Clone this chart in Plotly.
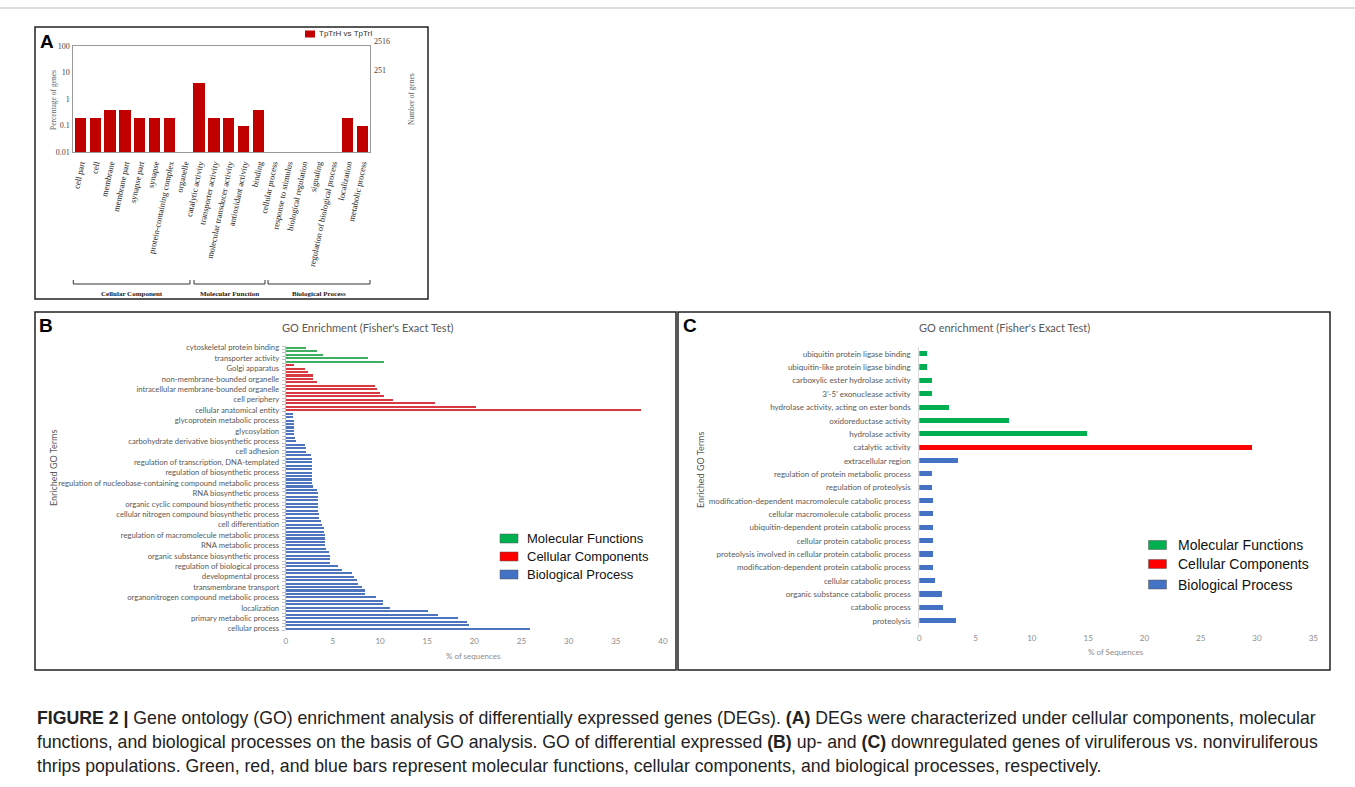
import plotly.graph_objects as go

W, H = 1355, 787
def px(x): return x / W
def py(y): return 1 - y / H

# ---------------- Panel A data ----------------
a_categories = ["cell part", "cell", "membrane", "membrane part", "synapse part", "synapse",
                "protein-containing complex", "organelle", "catalytic activity",
                "transporter activity", "molecular transducer activity", "antioxidant activity",
                "binding", "cellular process", "response to stimulus", "biological regulation",
                "signaling", "regulation of biological process", "localization", "metabolic process"]
a_values = [0.2, 0.2, 0.4, 0.4, 0.2, 0.2, 0.2, None, 4.0, 0.2, 0.2, 0.1, 0.4,
            None, None, None, None, None, 0.2, 0.1]
a_ticks = [0.01, 0.1, 1, 10, 100]
a_tick_labels = ["0.01", "0.1", "1", "10", "100"]
a_right_labels = ["2516", "251"]
a_groups = ["Cellular Component", "Molecular Function", "Biological Process"]

# ---------------- Panel B data ----------------
b_labels = ["cytoskeletal protein binding", "transporter activity", "Golgi apparatus",
            "non-membrane-bounded organelle", "intracellular membrane-bounded organelle",
            "cell periphery", "cellular anatomical entity", "glycoprotein metabolic process",
            "glycosylation", "carbohydrate derivative biosynthetic process", "cell adhesion",
            "regulation of transcription, DNA-templated", "regulation of biosynthetic process",
            "regulation of nucleobase-containing compound metabolic process",
            "RNA biosynthetic process", "organic cyclic compound biosynthetic process",
            "cellular nitrogen compound biosynthetic process", "cell differentiation",
            "regulation of macromolecule metabolic process", "RNA metabolic process",
            "organic substance biosynthetic process", "regulation of biological process",
            "developmental process", "transmembrane transport",
            "organonitrogen compound metabolic process", "localization",
            "primary metabolic process", "cellular process"]
b_mf = [2.08, 3.29, 3.89, 8.69, 10.35]
b_cc = [0.88, 1.98, 2.33, 2.83, 2.83, 3.32, 9.43, 9.61, 10.0, 10.42, 11.34, 15.83, 20.14, 37.6]
b_bp = [0.71, 0.71, 0.88, 0.88, 0.88, 0.88, 0.88, 0.95, 1.02,
        2.0, 2.12, 2.12, 2.61, 2.72, 2.72, 2.72, 2.72, 2.72, 2.72, 2.72, 2.76, 2.83,
        3.29, 3.39, 3.39, 3.39, 3.43, 3.43, 3.43, 3.46, 3.46,
        3.75, 3.78, 3.99, 4.03, 4.13, 4.13, 4.13, 4.17, 4.24,
        4.6, 4.63, 4.63, 4.63, 5.51, 5.97, 7.0, 7.17, 7.53,
        7.6, 8.06, 8.37, 8.37, 9.58, 10.28, 10.28, 11.06, 15.09,
        16.15, 18.2, 19.19, 19.43, 25.83]

# ---------------- Panel C data ----------------
c_labels = ["ubiquitin protein ligase binding", "ubiquitin-like protein ligase binding",
            "carboxylic ester hydrolase activity", "3'-5' exonuclease activity",
            "hydrolase activity, acting on ester bonds", "oxidoreductase activity",
            "hydrolase activity", "catalytic activity", "extracellular region",
            "regulation of protein metabolic process", "regulation of proteolysis",
            "modification-dependent macromolecule catabolic process",
            "cellular macromolecule catabolic process",
            "ubiquitin-dependent protein catabolic process", "cellular protein catabolic process",
            "proteolysis involved in cellular protein catabolic process",
            "modification-dependent protein catabolic process", "cellular catabolic process",
            "organic substance catabolic process", "catabolic process", "proteolysis"]
c_mf = [0.75, 0.75, 1.16, 1.16, 2.67, 7.97, 14.95]
c_cc = [29.6]
c_bp = [3.47, 1.16, 1.16, 1.25, 1.25, 1.25, 1.25, 1.25, 1.25, 1.45, 2.07, 2.13, 3.28]

legend_names = ["Molecular Functions", "Cellular Components", "Biological Process"]
legend_colors = ["#00B050", "#FF0000", "#4472C4"]

fig = go.Figure()

# ---- Panel A bars ----
fig.add_trace(go.Bar(x=list(range(len(a_categories))), y=a_values, marker_color="#C00000",
                     width=0.77, xaxis="x", yaxis="y", showlegend=False))

# ---- Panel B bars ----
nB = len(b_mf) + len(b_cc) + len(b_bp)
pos = list(range(nB))
b_cols = ["#3FAE63", "#D8383F", "#4E74BE"]
start = 0
for vals, col in zip([b_mf, b_cc, b_bp], b_cols):
    fig.add_trace(go.Bar(x=vals, y=pos[start:start + len(vals)], orientation="h",
                         marker=dict(color=col, line=dict(width=0)), width=0.6,
                         xaxis="x2", yaxis="y2", showlegend=False))
    start += len(vals)

# ---- Panel C bars ----
start = 0
for vals, col in zip([c_mf, c_cc, c_bp], legend_colors):
    fig.add_trace(go.Bar(x=vals, y=c_labels[start:start + len(vals)], orientation="h",
                         marker=dict(color=col, line=dict(width=0)), width=0.38,
                         xaxis="x3", yaxis="y3", showlegend=False))
    start += len(vals)

serif = "Liberation Serif, Times New Roman, serif"
sans = "Lato, Open Sans, sans-serif"
arial = "Liberation Sans, Arial, sans-serif"

fig.update_layout(
    width=W, height=H, margin=dict(l=0, r=0, t=0, b=0),
    paper_bgcolor="white", plot_bgcolor="rgba(0,0,0,0)", template="none",
    bargap=0, showlegend=False,
    xaxis=dict(domain=[px(73.3), px(370)], range=[-0.5, 19.5], tickmode="array",
               tickvals=list(range(len(a_categories))), ticktext=a_categories,
               tickangle=-78, tickfont=dict(family=serif, size=8.5, color="#222"),
               ticklabelstandoff=2,
               showline=True, linecolor="#999", mirror=True, linewidth=1,
               ticks="", showgrid=False, zeroline=False, automargin=False, anchor="y"),
    yaxis=dict(domain=[py(152.3), py(45.7)], type="log", range=[-2, 2], tickmode="array",
               tickvals=a_ticks, ticktext=a_tick_labels,
               tickfont=dict(family=serif, size=8, color="#444"),
               showline=True, linecolor="#999", mirror=True, linewidth=1,
               ticks="", ticklabelstandoff=1,
               showgrid=False, zeroline=False, automargin=False, anchor="x"),
    xaxis2=dict(domain=[px(285.7), px(663)], range=[0, 40], dtick=5, tick0=0,
                tickfont=dict(family=sans, size=8, color="#8c8c8c"), ticklabelstandoff=5,
                showline=False, showgrid=False, zeroline=False, ticks="",
                automargin=False, anchor="y2"),
    yaxis2=dict(domain=[py(630.4), py(346)], range=[nB - 0.5, -0.5], tickmode="array",
                tickvals=pos[::3], ticktext=b_labels, ticklabelstandoff=4,
                tickfont=dict(family=sans, size=7.7, color="#595959"),
                showline=True, linecolor="#bfbfbf", linewidth=1, ticks="",
                minor=dict(tickmode="linear", tick0=0.5, dtick=1, ticks="outside",
                           ticklen=3, tickcolor="#bfbfbf", showgrid=False),
                showgrid=False, zeroline=False, automargin=False, anchor="x2"),
    xaxis3=dict(domain=[px(919.3), px(1313.3)], range=[0, 35], dtick=5, tick0=0,
                tickfont=dict(family=sans, size=8, color="#8c8c8c"), ticklabelstandoff=4,
                showline=False, showgrid=False, zeroline=False, ticks="",
                automargin=False, anchor="y3"),
    yaxis3=dict(domain=[py(627.7), py(347.3)], type="category",
                categoryorder="array", categoryarray=c_labels,
                autorange="reversed", ticklabelstandoff=6,
                tickfont=dict(family=sans, size=8, color="#595959"),
                showline=True, linecolor="#d9d9d9", linewidth=1, ticks="",
                showgrid=False, zeroline=False, automargin=False, anchor="x3"),
)

shapes = []
annotations = []

def note(text, x, y, size, family=sans, color="#595959", xanchor="center", angle=0):
    annotations.append(dict(text=text, x=px(x), y=py(y), xref="paper", yref="paper",
                            xanchor=xanchor, yanchor="middle", textangle=angle,
                            showarrow=False, font=dict(family=family, size=size, color=color)))

# Panel borders
for (x0, y0, x1, y1) in [(35, 27, 428, 299), (35, 312, 676, 670), (678, 312, 1330, 670)]:
    shapes.append(dict(type="rect", xref="paper", yref="paper", x0=px(x0), x1=px(x1),
                       y0=py(y1), y1=py(y0), line=dict(color="#222", width=1.5)))
shapes.append(dict(type="line", xref="paper", yref="paper", x0=0, x1=1, y0=py(8), y1=py(8),
                   line=dict(color="#bbb", width=1)))

# Panel letters
for lab, x, y in [("A", 47, 41), ("B", 46, 326), ("C", 690, 326)]:
    note("<b>%s</b>" % lab, x, y, 19, family=arial, color="black")

# Panel A extras
shapes.append(dict(type="rect", xref="paper", yref="paper", x0=px(305), x1=px(315),
                   y0=py(37.5), y1=py(30.5), fillcolor="#C00000", line=dict(width=0)))
note("TpTrH vs TpTrI", 317, 34, 8, family=arial, color="#333", xanchor="left")
for lab, yv in zip(a_right_labels, [41, 71]):
    note(lab, 372, yv, 8, family=serif, color="#444", xanchor="left")
note("Percentage of genes", 54, 100, 7.5, family=serif, color="#666", angle=-90)
note("Number of genes", 411, 99, 7.5, family=serif, color="#666", angle=-90)
for (x0, x1), lab in zip([(73.3, 190), (194, 265), (268, 370)], a_groups):
    shapes.append(dict(type="path", xref="paper", yref="paper",
                       path="M %f %f L %f %f L %f %f L %f %f" % (px(x0), py(280), px(x0), py(284),
                                                                 px(x1), py(284), px(x1), py(280)),
                       line=dict(color="#333", width=1)))
    note("<b>%s</b>" % lab, (x0 + x1) / 2, 293.5, 7, family=serif, color="#222")

# Panel B/C titles & axis titles
note("GO Enrichment (Fisher's Exact Test)", 368, 327, 11)
note("GO enrichment (Fisher's Exact Test)", 1005, 327, 11)
note("% of sequences", 473, 656, 8, color="#8c8c8c")
note("% of Sequences", 1116, 652, 8, color="#8c8c8c")
note("Enriched GO Terms", 53, 468, 9, angle=-90)
note("Enriched GO Terms", 701, 470, 9, angle=-90)

# Legends for B and C
for (sx, tx, ys, fs) in [(500, 525, [538.5, 556.5, 574.5], 13), (1148.5, 1176, [545, 564, 584.5], 14)]:
    for name, col, yc in zip(legend_names, legend_colors, ys):
        shapes.append(dict(type="rect", xref="paper", yref="paper", x0=px(sx), x1=px(sx + 18),
                           y0=py(yc + 4.5), y1=py(yc - 4.5), fillcolor=col,
                           line=dict(color="#555", width=0.5)))
        note(name, tx, yc, fs, family=arial, color="#111", xanchor="left")

# Caption
cap = [
    "<b>FIGURE 2 |</b> Gene ontology (GO) enrichment analysis of differentially expressed genes (DEGs). <b>(A)</b> DEGs were characterized under cellular components, molecular",
    "functions, and biological processes on the basis of GO analysis. GO of differential expressed <b>(B)</b> up- and <b>(C)</b> downregulated genes of viruliferous vs. nonviruliferous",
    "thrips populations. Green, red, and blue bars represent molecular functions, cellular components, and biological processes, respectively.",
]
for line, y in zip(cap, [718, 742, 766]):
    note(line, 35, y, 17.7, family=arial, color="#222", xanchor="left")

fig.update_layout(shapes=shapes, annotations=annotations)
fig.write_html("out.html")
